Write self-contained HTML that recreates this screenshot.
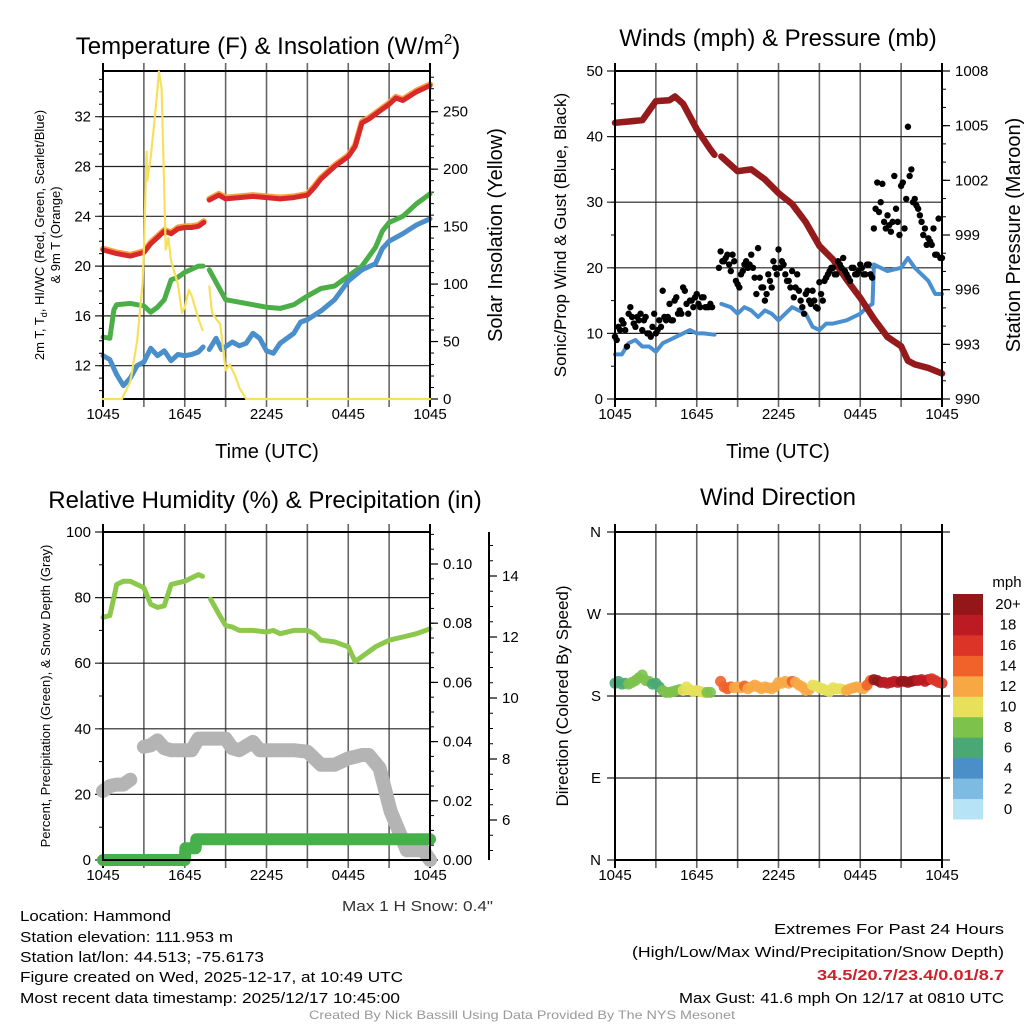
<!DOCTYPE html>
<html><head><meta charset="utf-8"><style>
html,body{margin:0;padding:0;background:#fff;}
svg{display:block;font-family:"Liberation Sans",sans-serif;}
</style></head><body>
<svg id="fig" width="1024" height="1024" viewBox="0 0 1024 1024" xmlns="http://www.w3.org/2000/svg">
<rect x="0" y="0" width="1024" height="1024" fill="#fff"/>
<g id="g-plots"></g>
<text x="268" y="54" font-size="24" text-anchor="middle">Temperature (F) &amp; Insolation (W/m<tspan font-size="15" dy="-10">2</tspan><tspan dy="10">)</tspan></text>
<text x="778" y="46" font-size="24" text-anchor="middle">Winds (mph) &amp; Pressure (mb)</text>
<text x="265" y="508" font-size="24" text-anchor="middle">Relative Humidity (%) &amp; Precipitation (in)</text>
<text x="778" y="505" font-size="24" text-anchor="middle">Wind Direction</text>
<text x="267" y="458" font-size="20" text-anchor="middle">Time (UTC)</text>
<text x="778" y="458" font-size="20" text-anchor="middle">Time (UTC)</text>
<text font-size="13" text-anchor="middle" transform="translate(44,235) rotate(-90)">2m T, T<tspan font-size="9" dy="3">d</tspan><tspan dy="-3">, HI/WC (Red, Green, Scarlet/Blue)</tspan></text>
<text font-size="13" text-anchor="middle" transform="translate(60,235) rotate(-90)">&amp; 9m T (Orange)</text>
<text font-size="20" text-anchor="middle" transform="translate(502,235) rotate(-90)">Solar Insolation (Yellow)</text>
<text font-size="17" text-anchor="middle" transform="translate(566,235) rotate(-90)">Sonic/Prop Wind &amp; Gust (Blue, Black)</text>
<text font-size="20" text-anchor="middle" transform="translate(1020,235) rotate(-90)">Station Pressure (Maroon)</text>
<text font-size="13" text-anchor="middle" transform="translate(50,696) rotate(-90)">Percent, Precipitation (Green), &amp; Snow Depth (Gray)</text>
<text font-size="17" text-anchor="middle" transform="translate(568,696) rotate(-90)">Direction (Colored By Speed)</text>
<text x="342" y="911" font-size="15" fill="#333" textLength="151" lengthAdjust="spacingAndGlyphs">Max 1 H Snow: 0.4"</text>
<g font-size="15">
<text x="20" y="921" textLength="151" lengthAdjust="spacingAndGlyphs">Location: Hammond</text>
<text x="20" y="942" textLength="213" lengthAdjust="spacingAndGlyphs">Station elevation: 111.953 m</text>
<text x="20" y="962" textLength="244" lengthAdjust="spacingAndGlyphs">Station lat/lon: 44.513; -75.6173</text>
<text x="20" y="982" textLength="383" lengthAdjust="spacingAndGlyphs">Figure created on Wed, 2025-12-17, at 10:49 UTC</text>
<text x="20" y="1003" textLength="380" lengthAdjust="spacingAndGlyphs">Most recent data timestamp: 2025/12/17 10:45:00</text>
</g>
<g font-size="15">
<text x="774" y="934" textLength="230" lengthAdjust="spacingAndGlyphs">Extremes For Past 24 Hours</text>
<text x="632" y="957" textLength="372" lengthAdjust="spacingAndGlyphs">(High/Low/Max Wind/Precipitation/Snow Depth)</text>
<text x="817" y="980" fill="#d0212a" font-weight="bold" textLength="187" lengthAdjust="spacingAndGlyphs">34.5/20.7/23.4/0.01/8.7</text>
<text x="679" y="1003" textLength="325" lengthAdjust="spacingAndGlyphs">Max Gust: 41.6 mph On 12/17 at 0810 UTC</text>
</g>
<text x="309" y="1019" font-size="12" fill="#999" textLength="426" lengthAdjust="spacingAndGlyphs">Created By Nick Bassill Using Data Provided By The NYS Mesonet</text>
</svg>
<script>
const xTickLabels = ["1045","1645","2245","0445","1045"];
const tempRedT = [0,1,2,3,3.5,4,4.5,5,5.5,6,6.5,7,7.4,7.6,7.8,8.5,9,10,11,12,13,14,15,15.5,16,17,18,18.5,19,19.5,20,21,21.5,22,23,24];
const tempRedV = [21.3,21.0,20.8,21.1,21.8,22.3,22.8,22.6,23.0,23.1,23.1,23.2,23.5,null,25.3,25.7,25.4,25.5,25.6,25.5,25.4,25.5,25.7,26.3,27.0,28.0,28.8,29.6,31.5,31.8,32.2,33.0,33.5,33.3,34.0,34.5];
const greenT = [0,0.5,0.8,1,2,3,3.5,4,4.5,5,5.5,6,7,7.35,7.6,7.8,8.5,9,10,11,12,13,14,15,16,17,18,19,20,20.5,21,22,23,24];
const greenV = [14.3,14.2,16.5,16.9,17.0,16.8,16.3,16.7,17.3,18.9,19.1,19.5,20.0,20.0,null,19.7,18.3,17.3,17.1,16.9,16.7,16.6,16.9,17.6,18.2,18.4,19.2,20.0,21.5,22.8,23.5,24.0,25.0,25.8];
const blueT = [0,0.5,1,1.5,2,2.5,3,3.5,4,4.5,5,5.5,6,6.5,7,7.35,7.6,7.8,8.3,8.7,9.5,10,10.5,11,11.5,12,12.5,13,14,14.5,15,16,17,18,19,20,20.5,21,22,23,24];
const blueV = [12.8,12.5,11.3,10.4,11.0,12.0,12.3,13.4,12.8,13.2,12.4,12.9,12.8,12.9,13.1,13.5,null,13.3,14.2,13.3,13.9,13.6,13.8,14.6,14.2,13.2,13.0,13.8,14.6,15.5,15.7,16.4,17.3,18.8,19.7,20.2,21.4,22.0,22.6,23.3,23.8];
const solarT = [0,1.4,1.5,2,2.5,2.9,3,3.2,3.25,3.5,3.8,4,4.1,4.3,4.5,4.6,4.8,5,5.5,5.8,6,6.3,6.5,7,7.3,7.55,7.8,8,8.3,8.6,9,9.3,9.7,10,10.5,24];
const solarV = [0,0,3,15,50,100,130,215,190,210,245,270,285,270,180,130,140,120,100,75,80,95,90,70,60,null,98,75,70,65,25,30,20,10,0,0];
const windT = [0,0.5,1,1.5,2,2.5,3,3.5,4,4.5,5,5.5,6,6.5,7.3,7.55,7.8,8.5,9,9.5,10,10.5,11,11.5,12,12.5,13,14,14.5,15,15.5,16,17,18,18.5,18.9,19,19.5,20,21,21.5,22,23,23.5,24];
const windV = [6.8,6.8,8.5,9.0,8.0,8.0,7.2,8.5,9.0,9.5,10.0,10.5,10.0,10.0,9.8,null,14.5,14.0,13.0,14.0,13.5,12.5,13.5,13.0,12.0,13.0,14.0,13.0,11.0,10.5,11.5,11.5,12.0,13.0,14.0,14.5,20.5,20.0,19.5,20.0,21.5,20.0,18.0,16.0,16.0];
const pressT = [0,2,3,4,4.4,5,6,7,7.3,7.55,7.8,9,10,11,12,13,14,15,16,17,18,19,20,21,21.5,22,23,24];
const pressV = [1005.16,1005.3,1006.35,1006.4,1006.6,1006.2,1004.8,1003.7,1003.4,null,1003.3,1002.5,1002.6,1002.05,1001.3,1000.7,999.7,998.4,997.65,996.55,995.55,994.4,993.4,992.9,992.1,991.9,991.7,991.4];
const gustA = [9.5,11,12,10.5,13,12.5,11,12,10.5,12.5,10,11,10,12,16.5,12,14.5,12,15.5,13.5,17,14.5,15,14,16,14,15.5,14,14.5,null,null,22.5,21,22,19.5,21,17.5,19,20.5,20,22,18.5,23,17,15,19,17,20,22.8,21,19,18,19.5,17,16.5,14,16,15,16.5,14,17.8,15,18.5,19.5,20,19,20.5,21.5,19,18,20,19,20.5,19,20.5,19,26,33,30,27,28,25.5,34,27,32.5,26,41.5,35,30.5,29,27,26,24.5,23.5,22,27.5,21.5];
const gustB = [9,10.5,11.5,8,14,11.5,12.5,13,12,10,9.5,13,10.5,11,12.5,12.5,12,15,13,13,16.5,13,15,15.5,14.5,15.5,14,14,14,null,20,21,21.5,20.5,22,18,17,19.5,21,20.5,20,16,18.5,17,16,18,21,19,20,20.5,18,17,15.5,19,15,13,16.5,14.5,15,13.8,16,18,19,20,19,21,20,19.5,18.5,20,19,19.5,20,19,20.5,18.5,29,28.5,32.8,26,26.5,27,29,25,33,30.5,34,30,29.5,28,25,23.5,24,26,22,21.5];
const rhT = [0,0.5,0.8,1,1.5,2,2.5,3,3.5,4,4.5,5,5.5,6,6.5,7,7.3,7.6,7.9,8.5,9,9.5,10,11,12,12.5,13,14,15,15.5,16,17,18,18.5,19,20,21,22,23,24];
const rhV = [74,74.5,80,84,85,85,84,83,78,77,77.5,84,84.5,85,86,87,86.5,null,79.5,75,71.5,71,70,70,69.5,70,69,70,70,69,67,66.5,65,60.5,62,65,67,68,69,70.5];
const snowT = [0,0.5,1,1.5,2,2.6,3,3.5,4,4.5,5,6,6.5,7,8,9,9.5,10,11,11.5,12,14,15,16,17,18,19,19.5,20.3,21.1,21.8,22.3,23.5,24];
const snowV = [6.95,7.11,7.16,7.16,7.32,null,8.40,8.45,8.61,8.35,8.29,8.29,8.29,8.67,8.67,8.67,8.35,8.29,8.56,8.29,8.29,8.29,8.24,7.81,7.81,8.02,8.13,8.13,7.70,6.30,5.55,5.01,5.01,4.69];
const precipT = [0,6.0,6.05,6.8,6.85,24];
const precipV = [0,0,0.004,0.004,0.007,0.007];
const dirV = [194,196,193,194,193,195,197,200,203,197,196,193,194,190,186,184,184,185,186,187,186,190,187,185,186,185,184,184,184,null,null,196,190,188,190,189,190,189,191,188,190,192,190,188,190,189,188,190,195,194,196,194,196,195,192,190,186,187,192,191,189,188,186,185,189,188,188,187,186,188,189,190,189,188,192,197,198,197,195,195,194,195,196,195,196,196,195,196,197,197,198,196,198,199,197,195,194];
const speedLevels = ["0","2","4","6","8","10","12","14","16","18","20+"];
const speedColors = ["#b7e3f7","#7ebbe3","#4a8fc7","#4aa877","#7cc24b","#e6e05a","#f7a845","#f0622a","#dc3528","#bc1b24","#951619"];

const NS="http://www.w3.org/2000/svg";
const root=document.getElementById('g-plots');
function el(tag,attrs,parent){const e=document.createElementNS(NS,tag);for(const k in attrs)e.setAttribute(k,attrs[k]);(parent||root).appendChild(e);return e;}
function lin(d0,d1,r0,r1){return v=>r0+(v-d0)*(r1-r0)/(d1-d0);}
function pathFrom(T,V,xs,ys){let d="",pen=false;for(let i=0;i<T.length;i++){if(V[i]==null){pen=false;continue;}d+=(pen?"L":"M")+xs(T[i]).toFixed(1)+","+ys(V[i]).toFixed(1);pen=true;}return d;}
function line(T,V,xs,ys,color,w,name){const p=el('path',{d:pathFrom(T,V,xs,ys),fill:'none',stroke:color,'stroke-width':w,'stroke-linejoin':'round','stroke-linecap':'round'});


return p;}
function txt(x,y,s,size,anchor,name){const t=el('text',{x:x,y:y,'font-size':size,'text-anchor':anchor});t.textContent=s;


return t;}
function frame(P){
  const xs=lin(0,24,P.x0,P.x1);
  for(let h=0;h<=24;h+=3){el('line',{x1:xs(h),x2:xs(h),y1:P.y0-8,y2:P.y1+8,stroke:(h%24==0)?'#000':'#666','stroke-width':(h%24==0)?2:1.6});}
  for(let i=0;i<xTickLabels.length;i++){txt(xs(i*6),P.y1+20,xTickLabels[i],15,'middle','x-tick-label');}
  return xs;
}
function leftAxis(P,ys,majors,labels,minorStep,mn,mx){
  for(let v=Math.ceil(mn/minorStep)*minorStep;v<=mx+1e-9;v+=minorStep){const y=ys(v);if(y<P.y0-0.5||y>P.y1+0.5)continue;el('line',{x1:P.x0-4,x2:P.x0,y1:y,y2:y,stroke:'#000','stroke-width':1});}
  majors.forEach((v,i)=>{const y=ys(v);el('line',{x1:P.x0-8,x2:P.x1,y1:y,y2:y,stroke:'#222','stroke-width':1.2});txt(P.x0-12,y+5,labels[i],15,'end','left-tick-label');});
}
function rightAxis(P,ax,ys,majors,labels,minorStep,mn,mx,drawLine){
  if(drawLine)el('line',{x1:ax,x2:ax,y1:P.y0,y2:P.y1,stroke:'#000','stroke-width':2});
  for(let v=Math.ceil(mn/minorStep)*minorStep;v<=mx+1e-9;v+=minorStep){const y=ys(v);if(y<P.y0-0.5||y>P.y1+0.5)continue;el('line',{x1:ax,x2:ax+4,y1:y,y2:y,stroke:'#000','stroke-width':1});}
  majors.forEach((v,i)=>{const y=ys(v);el('line',{x1:ax,x2:ax+8,y1:y,y2:y,stroke:'#000','stroke-width':1.2});txt(ax+13,y+5,labels[i],15,'start','right-tick-label');});
}
function border(P){el('rect',{x:P.x0,y:P.y0,width:P.x1-P.x0,height:P.y1-P.y0,fill:'none',stroke:'#000','stroke-width':2});}
function interp(T,V,t){for(let i=0;i<T.length-1;i++){if(t>=T[i]&&t<=T[i+1]){const a=V[i],b=V[i+1];if(a==null)return b;if(b==null)return a;return a+(b-a)*(t-T[i])/(T[i+1]-T[i]);}}return V[V.length-1];}

{const P={x0:103,x1:430,y0:71,y1:399};
 const xs=frame(P);
 const ys=lin(12,32,365.7,116.7), ysR=lin(0,250,399,111.7);
 leftAxis(P,ys,[12,16,20,24,28,32],["12","16","20","24","28","32"],1,9,36);
 rightAxis(P,P.x1,ysR,[0,50,100,150,200,250],["0","50","100","150","200","250"],10,0,285,false);
 line(tempRedT,tempRedV.map(v=>v==null?null:v+0.1),xs,ys,'#f7a040',6,'9m-temperature-line');
 line(tempRedT,tempRedV,xs,ys,'#d9282a',5,'2m-temperature-line');
 line(greenT,greenV,xs,ys,'#4cae46',5,'dewpoint-line');
 line(blueT,blueV,xs,ys,'#4a8fc9',5,'wind-chill-line');
 border(P);
 line(solarT,solarV,xs,ysR,'#f7e15a',2.2,'solar-insolation-line');}

{const P={x0:615,x1:942,y0:71,y1:399};
 const xs=frame(P);
 const ys=lin(0,50,399,71), ysR=lin(990,1008,399,71);
 leftAxis(P,ys,[0,10,20,30,40,50],["0","10","20","30","40","50"],5,0,50);
 rightAxis(P,P.x1,ysR,[990,993,996,999,1002,1005,1008],["990","993","996","999","1002","1005","1008"],1,990,1008,false);
 line(windT,windV,xs,ys,'#4a90d0',4,'sonic-wind-line');
 line(pressT,pressV,xs,ysR,'#951a1c',6.5,'station-pressure-line');
 const g=el('g',{});
 
 
 gustA.forEach((v,i)=>{if(v!=null)el('circle',{cx:xs(i*0.25),cy:ys(v),r:3.2,fill:'#000'},g);});
 gustB.forEach((v,i)=>{if(v!=null)el('circle',{cx:xs(i*0.25+0.125),cy:ys(v),r:3.2,fill:'#000'},g);});
 border(P);}

{const P={x0:103,x1:430,y0:532,y1:860};
 const xs=frame(P);
 const ys=lin(0,100,860,532), ysR=lin(0,0.1,860,564), ysS=lin(6,14,820,576);
 leftAxis(P,ys,[0,20,40,60,80,100],["0","20","40","60","80","100"],10,0,100);
 rightAxis(P,P.x1,ysR,[0,0.02,0.04,0.06,0.08,0.10],["0.00","0.02","0.04","0.06","0.08","0.10"],0.005,0,0.111,false);
 rightAxis(P,489,ysS,[6,8,10,12,14],["6","8","10","12","14"],0.5,4.7,15.4,true);
 line(snowT,snowV,xs,ysS,'#b4b4b4',14,'snow-depth-line');
 line(precipT,precipV,xs,ysR,'#46b04a',12,'precipitation-line');
 line(rhT,rhV,xs,ys,'#8cc84b',5,'relative-humidity-line');
 border(P);}

{const P={x0:615,x1:942,y0:532,y1:860};
 const xs=frame(P);
 const ys=lin(0,360,860,532);
 const dl=["N","E","S","W","N"];
 [0,90,180,270,360].forEach((v,i)=>{const y=ys(v);el('line',{x1:P.x0-8,x2:P.x1+8,y1:y,y2:y,stroke:'#222','stroke-width':1.2});txt(P.x0-14,y+5,dl[i],15,'end','direction-tick-label');});
 const g=el('g',{});
 
 
 dirV.forEach((v,i)=>{if(v==null)return;const t=i*0.25;const sp=interp(windT,windV,t);const k=Math.min(10,Math.max(0,Math.floor(sp/2)));el('circle',{cx:xs(t),cy:ys(v),r:5.5,fill:speedColors[k],'fill-opacity':0.9},g);});
 border(P);
 const cb=el('g',{});
 
 
 const top=594,bot=819,n=speedLevels.length,h=(bot-top)/n;
 for(let i=0;i<n;i++){const y=bot-(i+1)*h;el('rect',{x:953,y:y,width:30,height:h+0.5,fill:speedColors[i]},cb);txt(1008,y+h/2+5,speedLevels[i],15,'middle','colorbar-label');}
 txt(1007,587,"mph",15,'middle','colorbar-unit-label');
}
</script>
</body></html>
